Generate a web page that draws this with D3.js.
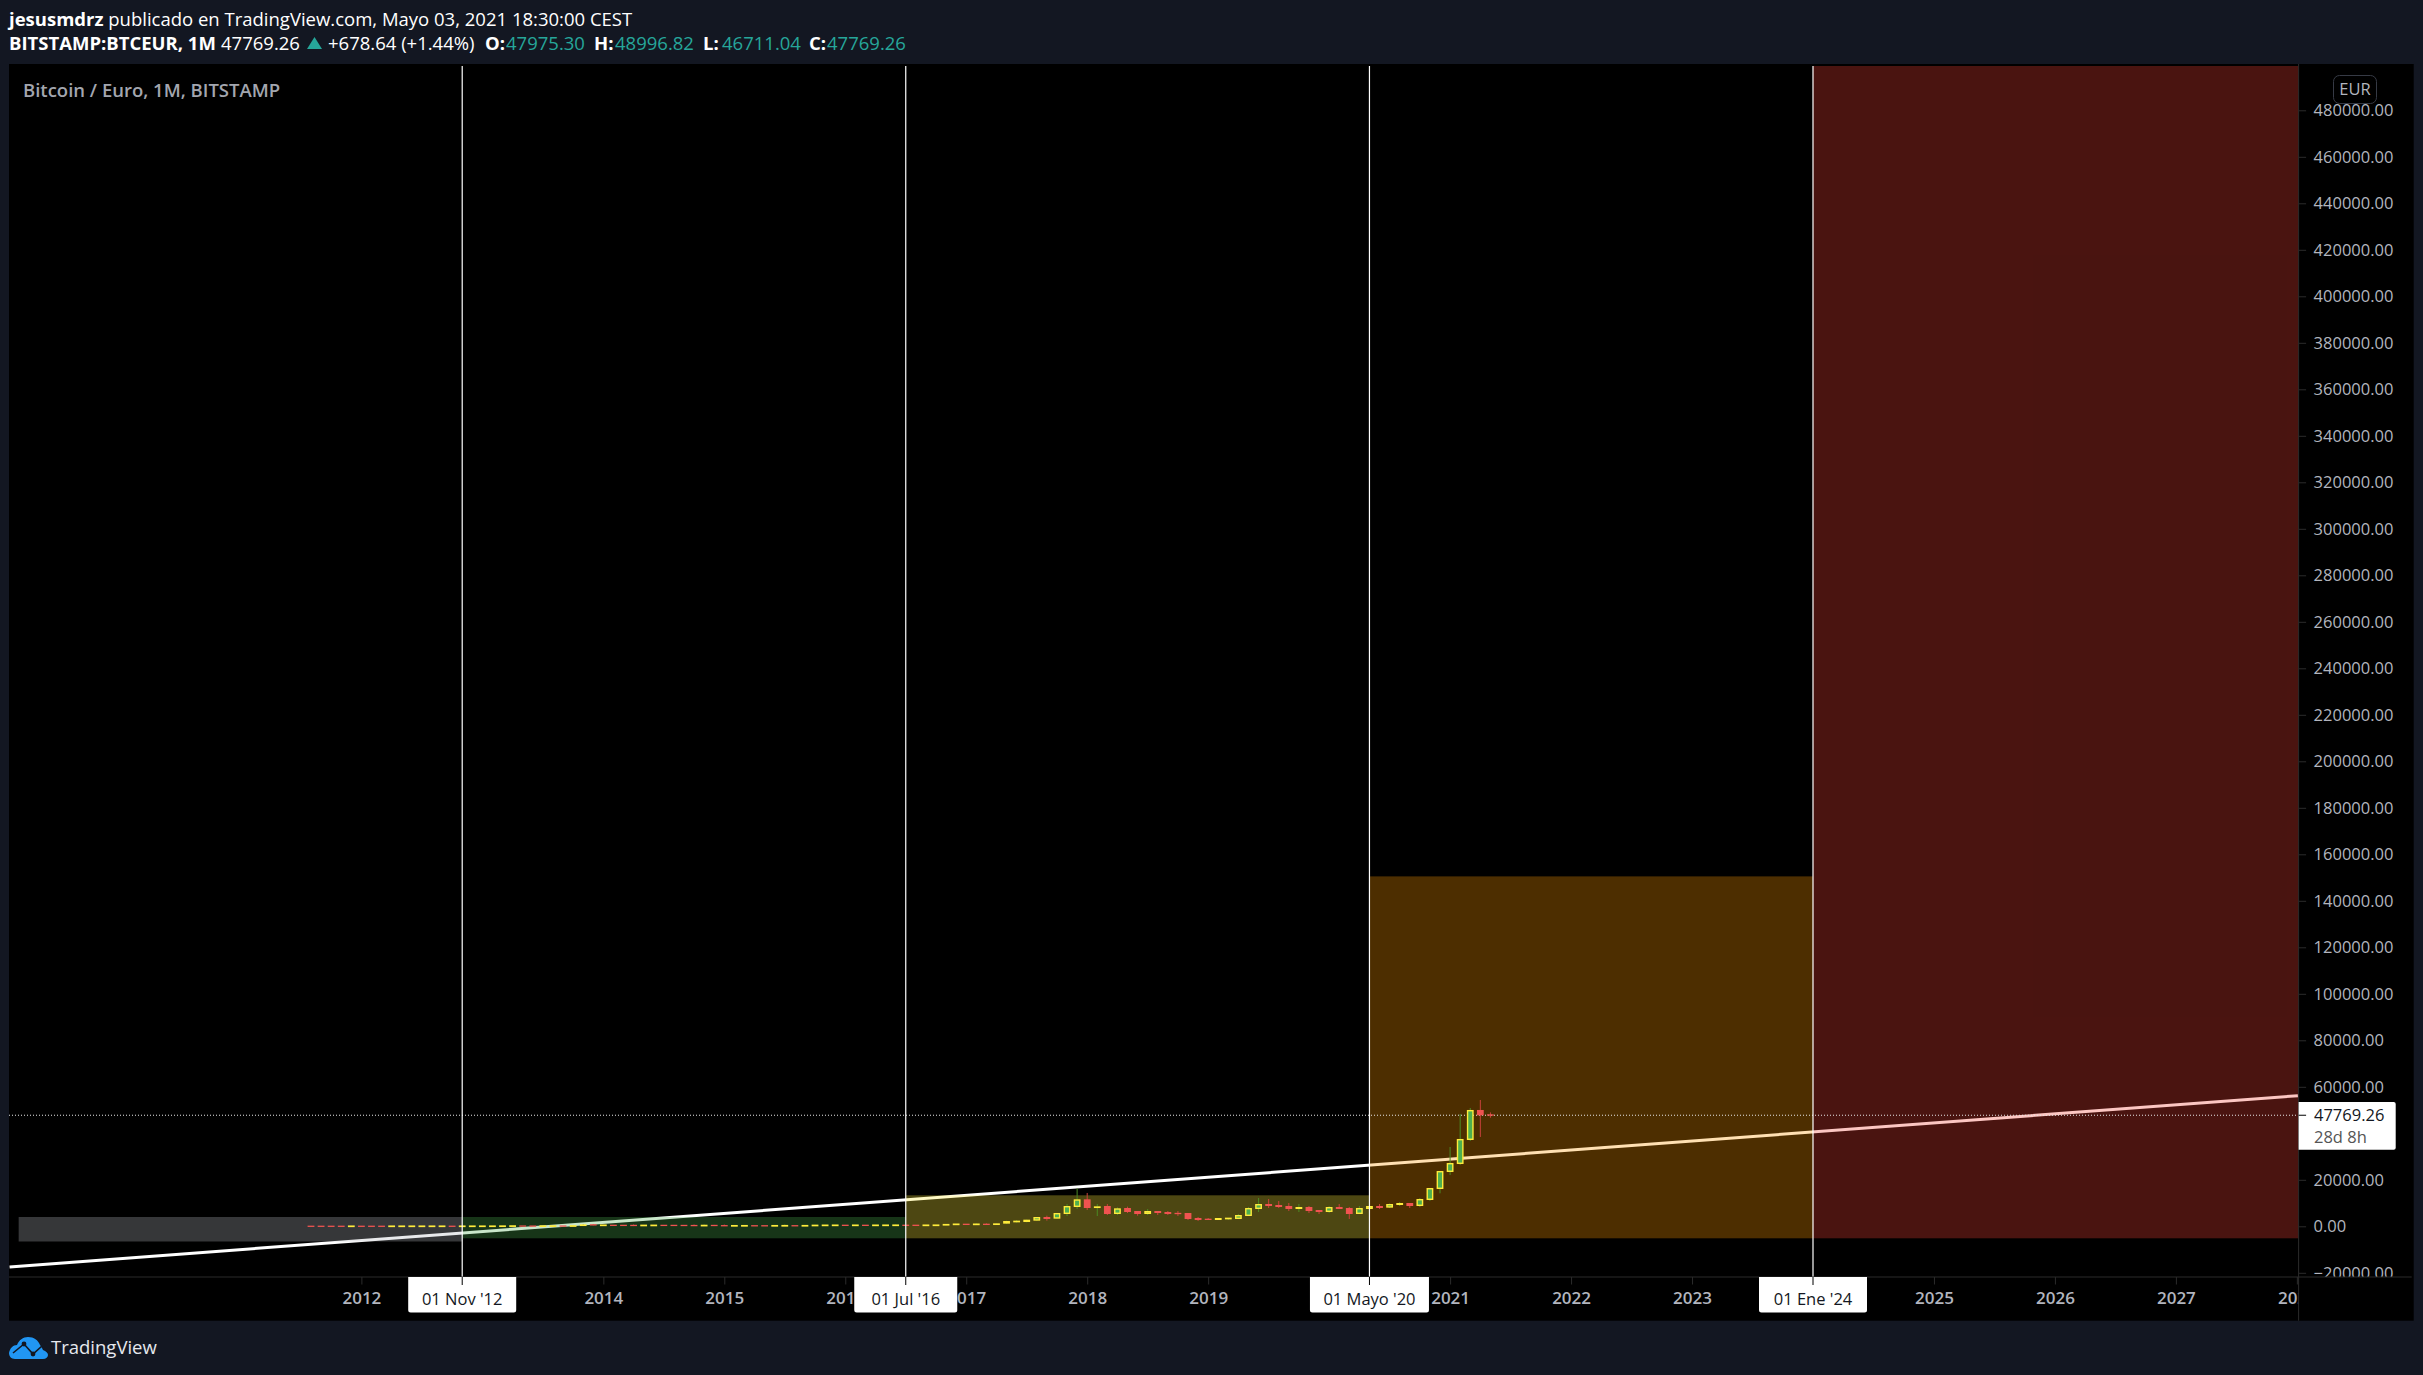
<!DOCTYPE html>
<html>
<head>
<meta charset="utf-8">
<script src="https://cdn.jsdelivr.net/npm/d3@7"></script>
<style>
  html, body { margin: 0; padding: 0; background: #131722; }
  svg { display: block; }
  text { font-family: "Open Sans", sans-serif; }
</style>
</head>
<body>
<div id="chart"></div>
<script>
// monthly candles, first one is Aug 2011, last one is May 2021
let firstCandle = "2011-08";
let opens = [
    5, 3, 2.4, 2.2, 2, 4, 3.9, 3.7, 3.5, 4,
    4.5, 5, 6, 8, 9, 8.5, 9, 10, 15, 26,
    70, 100, 95, 75, 80, 100, 95, 150, 800, 420,
    430, 400, 380, 350, 360, 390, 380, 370, 340, 300,
    600, 300, 200, 210, 220, 215, 210, 220, 230, 225,
    100, 390, 400, 430, 410, 430, 410, 420, 430, 440,
    430, 410, 430, 420, 830, 860, 830, 860, 700, 1133,
    1850, 1850, 2420, 4000, 3280, 5290, 8300, 11600, 8000, 8730,
    5290, 7870, 6580, 5290, 6580, 6150, 5720, 5720, 3570, 3140,
    2710, 3140, 3140, 4430, 7440, 9590, 9160, 8730, 7440, 8300,
    7010, 6150, 8300, 7870, 5290, 7440, 8730, 8020, 9160, 10020,
    8730, 11314, 16046, 23360, 26801, 37126, 50032, 47975.30
];
let closes = [
    3, 2.4, 2.2, 2, 4, 3.9, 3.7, 3.5, 4, 4.5,
    5, 6, 8, 9, 8.5, 9, 10, 15, 26, 70,
    100, 95, 75, 80, 100, 95, 150, 800, 430, 430,
    400, 380, 350, 360, 390, 380, 370, 340, 300, 320,
    100, 200, 210, 220, 215, 210, 220, 230, 225, 235,
    600, 410, 430, 410, 430, 410, 420, 430, 440, 410,
    410, 430, 450, 900, 860, 830, 860, 830, 1130, 2280,
    2280, 2850, 4000, 3140, 5720, 8730, 11600, 7870, 8450, 5290,
    7730, 6150, 5290, 6580, 5720, 5290, 5290, 3140, 2710, 2850,
    3570, 3570, 4860, 7870, 9590, 8730, 8300, 7440, 8300, 6580,
    6150, 8300, 7440, 5290, 7870, 8730, 7870, 9590, 10020, 8730,
    11740, 16477, 23790, 27231, 37556, 50032, 47738, 47769.26
];
let highs = [
    5, 3, 2.4, 2.2, 4, 4, 3.9, 3.7, 4, 4.5,
    5, 6, 8, 9, 9, 9, 10, 15, 26, 70,
    100, 100, 95, 80, 100, 100, 150, 846, 990, 430,
    430, 400, 750, 360, 390, 390, 380, 370, 750, 750,
    600, 750, 210, 220, 220, 215, 220, 750, 230, 235,
    600, 410, 430, 430, 430, 430, 420, 430, 700, 440,
    430, 430, 450, 900, 860, 860, 1270, 1270, 1200, 2420,
    2710, 2850, 4000, 4570, 5720, 9590, 16330, 14330, 9590, 9590,
    8160, 8450, 6580, 7440, 6580, 6580, 6580, 5720, 4000, 3570,
    3570, 3570, 5290, 8300, 12175, 11745, 10880, 10020, 9590, 8730,
    7010, 8730, 9590, 8300, 8730, 9590, 9590, 9800, 10450, 10020,
    12175, 16477, 23790, 34115, 48310, 50893, 54334, 48996.82
];
let lows = [
    3, 2.4, 2.2, 2, 2, 3.9, 3.7, 3.5, 3.5, 4,
    4.5, 5, 6, 8, 8.5, 8.5, 9, 10, 15, 26,
    70, 95, 75, 75, 80, 95, 95, 150, 430, 420,
    400, 380, 100, 350, 360, 380, 370, 340, 100, 100,
    100, 100, 200, 210, 215, 210, 210, 100, 225, 225,
    100, 390, 400, 410, 410, 410, 410, 420, 300, 410,
    410, 410, 430, 420, 830, 830, 800, 800, 650, 1000,
    1560, 1700, 2300, 2420, 3280, 4430, 7440, 7010, 4430, 4860,
    4860, 5720, 4570, 4860, 4860, 4860, 4430, 2710, 2280, 2710,
    2710, 2710, 3140, 4430, 6150, 7870, 7870, 6580, 6150, 5720,
    5290, 5720, 7440, 3140, 5290, 7440, 7440, 7870, 8730, 7870,
    8300, 10885, 14182, 22069, 26371, 36696, 38416, 46711.04
];

// drawn rectangles: from, to, top price, bottom price, colour
let boxStarts = ["2009-03", "2012-11", "2016-07", "2020-05", "2024-01"];
let boxEnds = ["2012-11", "2016-07", "2020-05", "2024-01", "2028-02"];
let boxTops = [4000, 4000, 13330, 150500, 500000];
let boxBottoms = [-6540, -5160, -5160, -5160, -5160];
let boxColors = ["#b2b5be", "#4caf50", "#ffeb3b", "#ff9800", "#f44336"];

// vertical lines and the labels under them
let lineDates = ["2012-11", "2016-07", "2020-05", "2024-01"];
let lineLabels = ["01 Nov '12", "01 Jul '16", "01 Mayo '20", "01 Ene '24"];
let lineLabelWidths = [108, 103, 119, 108];

// trend line (two ends, months from Jan 2012)
let trendMonths = [-34.9, 192.1];
let trendPrices = [-17460, 56172];

let priceTicks = [-20000, 0, 20000, 40000, 60000, 80000, 100000, 120000, 140000, 160000,
    180000, 200000, 220000, 240000, 260000, 280000, 300000, 320000, 340000, 360000,
    380000, 400000, 420000, 440000, 460000, 480000];
let yearTicks = [2012, 2013, 2014, 2015, 2016, 2017, 2018, 2019, 2020, 2021, 2022,
    2023, 2024, 2025, 2026, 2027, 2028];
let lastPrice = 47769.26;

let width = 2423,
    height = 1375,
    pane = {left: 9, right: 2298.6, top: 64, plotTop: 66, bottom: 1277},
    outer = {right: 2413.7, bottom: 1320.7};

let upFill = "#4caf50", upBorder = "#ffeb3b", upWick = "#4b8a24",
    downFill = "#ef5350", downWick = "#c8423a",
    axisColor = "#2b2b2b", tickText = "#b2b5be",
    borderWidth = 1.4;

// months since Jan 2012, the axis is evenly spaced per bar
function monthIndex(s) {
    let p = s.split("-");
    return (+p[0] - 2012) * 12 + (+p[1] - 1);
}

let x = d3.scaleLinear()
    .domain([0, 144])
    .range([361.4, 1813]);

let y = d3.scaleLinear()
    .domain([0, 480000])
    .range([1226.3, 110.3]);

let candles = opens.map(function(d, i) {
    return {
        m: monthIndex(firstCandle) + i,
        open: d,
        high: highs[i],
        low: lows[i],
        close: closes[i],
        up: closes[i] >= d
    };
});

let boxes = boxStarts.map(function(d, i) {
    return {from: d, to: boxEnds[i], top: boxTops[i], bottom: boxBottoms[i], color: boxColors[i]};
});

// outer height of a candle body, flat months still show as a thin dash
function bodyHeight(d) {
    return Math.max(Math.abs(y(d.open) - y(d.close)), d.up ? 1.7 : 1.3);
}

let svg = d3.select("#chart")
    .append("svg")
    .attr("width", width)
    .attr("height", height);

svg.append("rect")
    .attr("width", width)
    .attr("height", height)
    .attr("fill", "#131722");

svg.append("rect")
    .attr("x", pane.left)
    .attr("y", pane.top)
    .attr("width", outer.right - pane.left)
    .attr("height", outer.bottom - pane.top)
    .attr("fill", "#000");

let defs = svg.append("defs");
defs.append("clipPath").attr("id", "clipPane").append("rect")
    .attr("x", pane.left).attr("y", pane.plotTop)
    .attr("width", pane.right - pane.left).attr("height", pane.bottom - pane.plotTop);
defs.append("clipPath").attr("id", "clipPrice").append("rect")
    .attr("x", pane.right).attr("y", pane.top)
    .attr("width", outer.right - pane.right).attr("height", pane.bottom - pane.top);
defs.append("clipPath").attr("id", "clipTime").append("rect")
    .attr("x", pane.left).attr("y", pane.bottom)
    .attr("width", pane.right - pane.left).attr("height", outer.bottom - pane.bottom);

let plot = svg.append("g").attr("clip-path", "url(#clipPane)");

// trend line goes under the boxes so it picks up their tint
plot.append("line")
    .attr("x1", x(trendMonths[0]))
    .attr("y1", y(trendPrices[0]))
    .attr("x2", x(trendMonths[1]))
    .attr("y2", y(trendPrices[1]))
    .attr("stroke", "#fff")
    .attr("stroke-width", 3);

plot.selectAll(".box")
    .data(boxes)
    .enter().append("rect")
    .attr("class", "box")
    .attr("x", function(d) { return x(monthIndex(d.from)); })
    .attr("y", function(d) { return y(d.top); })
    .attr("width", function(d) { return x(monthIndex(d.to)) - x(monthIndex(d.from)); })
    .attr("height", function(d) { return y(d.bottom) - y(d.top); })
    .attr("fill", function(d) { return d.color; })
    .attr("fill-opacity", 0.3);

// last price line
plot.append("line")
    .attr("x1", pane.left)
    .attr("x2", pane.right)
    .attr("y1", y(lastPrice))
    .attr("y2", y(lastPrice))
    .attr("stroke", "#e8e8e8")
    .attr("stroke-dasharray", "1,2");

// candles
let candle = plot.selectAll(".candle")
    .data(candles)
    .enter().append("g")
    .attr("class", "candle");

candle.append("line")
    .attr("x1", function(d) { return x(d.m); })
    .attr("x2", function(d) { return x(d.m); })
    .attr("y1", function(d) { return y(d.high); })
    .attr("y2", function(d) { return y(d.low); })
    .attr("stroke", function(d) { return d.up ? upWick : downWick; })
    .attr("stroke-width", 1);

// the yellow border is inside the body, so the up rect is inset by half its width
candle.append("rect")
    .attr("x", function(d) { return x(d.m) - 3.4 + (d.up ? borderWidth / 2 : 0); })
    .attr("y", function(d) {
        let top = (y(d.open) + y(d.close)) / 2 - bodyHeight(d) / 2;
        return top + (d.up ? borderWidth / 2 : 0);
    })
    .attr("width", function(d) { return d.up ? 6.8 - borderWidth : 6.8; })
    .attr("height", function(d) { return d.up ? Math.max(bodyHeight(d) - borderWidth, 0.3) : bodyHeight(d); })
    .attr("fill", function(d) { return d.up ? upFill : downFill; })
    .attr("stroke", function(d) { return d.up ? upBorder : "none"; })
    .attr("stroke-width", borderWidth);

// vertical lines
plot.selectAll(".vline")
    .data(lineDates)
    .enter().append("line")
    .attr("class", "vline")
    .attr("x1", function(d) { return x(monthIndex(d)); })
    .attr("x2", function(d) { return x(monthIndex(d)); })
    .attr("y1", pane.top)
    .attr("y2", pane.bottom)
    .attr("stroke", "#fff")
    .attr("stroke-width", 1.2);

// price axis, clip sits on a parent so the axis translate does not move it
let priceAxis = svg.append("g")
    .attr("clip-path", "url(#clipPrice)")
    .append("g")
    .attr("class", "axis")
    .attr("transform", "translate(" + pane.right + ",0)")
    .call(d3.axisRight(y)
        .tickValues(priceTicks)
        .tickSize(7.5)
        .tickPadding(7.5)
        .tickFormat(function(d) { return (d < 0 ? "\u2212" + Math.abs(d) : d) + ".00"; }));
priceAxis.select(".domain").remove();
priceAxis.selectAll("line").attr("stroke", axisColor);
priceAxis.selectAll("text")
    .attr("fill", tickText)
    .style("font-size", "16.5px")
    .style("font-family", "'Open Sans', sans-serif");

// time axis
let timeAxis = svg.append("g")
    .attr("clip-path", "url(#clipTime)")
    .append("g")
    .attr("class", "axis")
    .attr("transform", "translate(0," + pane.bottom + ")")
    .call(d3.axisBottom(x)
        .tickValues(yearTicks.map(function(d) { return (d - 2012) * 12; }))
        .tickSize(7.5)
        .tickPadding(7)
        .tickFormat(function(d) { return 2012 + d / 12; }));
timeAxis.select(".domain").remove();
timeAxis.selectAll("line").attr("stroke", axisColor);
timeAxis.selectAll("text")
    .attr("fill", tickText)
    .style("font-size", "17px")
    .style("font-weight", 600)
    .style("font-family", "'Open Sans', sans-serif");

// axis borders
svg.append("line")
    .attr("x1", pane.right).attr("x2", pane.right)
    .attr("y1", pane.top).attr("y2", outer.bottom)
    .attr("stroke", axisColor);
svg.append("line")
    .attr("x1", pane.left).attr("x2", outer.right - 2)
    .attr("y1", pane.bottom).attr("y2", pane.bottom)
    .attr("stroke", axisColor);

// date labels under the vertical lines
let dateLabel = svg.selectAll(".dateLabel")
    .data(lineDates)
    .enter().append("g")
    .attr("class", "dateLabel")
    .attr("transform", function(d) { return "translate(" + x(monthIndex(d)) + "," + pane.bottom + ")"; });

dateLabel.append("path")
    .attr("d", function(d, i) {
        let w = lineLabelWidths[i] / 2;
        return "M" + (-w) + ",0H" + w + "V33a2.5,2.5 0 0 1 -2.5,2.5H" + (-w + 2.5) + "a2.5,2.5 0 0 1 -2.5,-2.5Z";
    })
    .attr("fill", "#fff");
dateLabel.append("line")
    .attr("y1", 0).attr("y2", 8)
    .attr("stroke", "#000");
dateLabel.append("text")
    .attr("y", 22.5)
    .attr("dy", "0.35em")
    .attr("text-anchor", "middle")
    .attr("fill", "#131722")
    .style("font-size", "16.5px")
    .text(function(d, i) { return lineLabels[i]; });

// last price label
svg.append("path")
    .attr("d", "M" + pane.right + ",1102H2393.7a2,2 0 0 1 2,2V1147.7a2,2 0 0 1 -2,2H" + pane.right + "Z")
    .attr("fill", "#fff");
svg.append("line")
    .attr("x1", pane.right).attr("x2", pane.right + 7.5)
    .attr("y1", y(lastPrice)).attr("y2", y(lastPrice))
    .attr("stroke", "#000");
svg.append("text")
    .attr("x", 2314).attr("y", 1115.7).attr("dy", "0.35em")
    .attr("fill", "#131722")
    .style("font-size", "16.5px")
    .text("47769.26");
svg.append("text")
    .attr("x", 2314).attr("y", 1137).attr("dy", "0.35em")
    .attr("fill", "#555")
    .style("font-size", "16.5px")
    .text("28d 8h");

// currency button
svg.append("rect")
    .attr("x", 2333.5).attr("y", 75.5)
    .attr("width", 43).attr("height", 28).attr("rx", 6)
    .attr("fill", "none")
    .attr("stroke", "#363a45");
svg.append("text")
    .attr("x", 2355).attr("y", 89).attr("dy", "0.35em")
    .attr("text-anchor", "middle")
    .attr("fill", tickText)
    .style("font-size", "16.5px")
    .text("EUR");

svg.append("text")
    .attr("x", 23).attr("y", 90.5).attr("dy", "0.35em")
    .attr("fill", "#a3a6af")
    .style("font-size", "18.5px")
    .style("font-weight", 600)
    .text("Bitcoin / Euro, 1M, BITSTAMP");

// header lines
let headerSize = "18.5px", teal = "#26a69a";
let head1 = svg.append("text")
    .attr("x", 9).attr("y", 20).attr("dy", "0.35em")
    .attr("fill", "#fff")
    .style("font-size", headerSize);
head1.append("tspan").style("font-weight", 700).text("jesusmdrz");
head1.append("tspan").text(" publicado en TradingView.com, Mayo 03, 2021 18:30:00 CEST");

let headParts = [
    {x: 9, text: "BITSTAMP:BTCEUR, 1M", bold: true, color: "#fff"},
    {x: 221, text: "47769.26", bold: false, color: "#fff"},
    {x: 328, text: "+678.64 (+1.44%)", bold: false, color: "#fff"},
    {x: 485, text: "O:", bold: true, color: "#fff"},
    {x: 506, text: "47975.30", bold: false, color: teal},
    {x: 594, text: "H:", bold: true, color: "#fff"},
    {x: 615, text: "48996.82", bold: false, color: teal},
    {x: 703, text: "L:", bold: true, color: "#fff"},
    {x: 722, text: "46711.04", bold: false, color: teal},
    {x: 809, text: "C:", bold: true, color: "#fff"},
    {x: 827, text: "47769.26", bold: false, color: teal}
];
svg.selectAll(".head2")
    .data(headParts)
    .enter().append("text")
    .attr("class", "head2")
    .attr("x", function(d) { return d.x; })
    .attr("y", 44).attr("dy", "0.35em")
    .attr("fill", function(d) { return d.color; })
    .style("font-size", headerSize)
    .style("font-weight", function(d) { return d.bold ? 700 : 400; })
    .text(function(d) { return d.text; });
svg.append("path")
    .attr("d", "M314.5,37L322,49H307Z")
    .attr("fill", teal);

// TradingView logo
let logo = svg.append("g").attr("transform", "translate(9,1337)");
logo.append("path")
    .attr("d", "M0,16C1,11 4,8 8,8C10,3 14,0 19,0C25,0 29,3 31,8C32,9 33,11 34,13C37,14 39,16 39,18C39,20 37,22 34,22H6C2,22 0,19 0,16Z")
    .attr("fill", "#2196f3");
logo.append("path")
    .attr("d", "M4,16L15,7L24,17L33,9")
    .attr("fill", "none")
    .attr("stroke", "#131722")
    .attr("stroke-width", 1.6);
logo.append("circle").attr("cx", 15).attr("cy", 7).attr("r", 2.4).attr("fill", "#131722");
logo.append("circle").attr("cx", 24).attr("cy", 17).attr("r", 2.4).attr("fill", "#131722");
svg.append("text")
    .attr("x", 51).attr("y", 1348).attr("dy", "0.35em")
    .attr("fill", "#e6e8ee")
    .style("font-size", "18.5px")
    .text("TradingView");
</script>
</body>
</html>
